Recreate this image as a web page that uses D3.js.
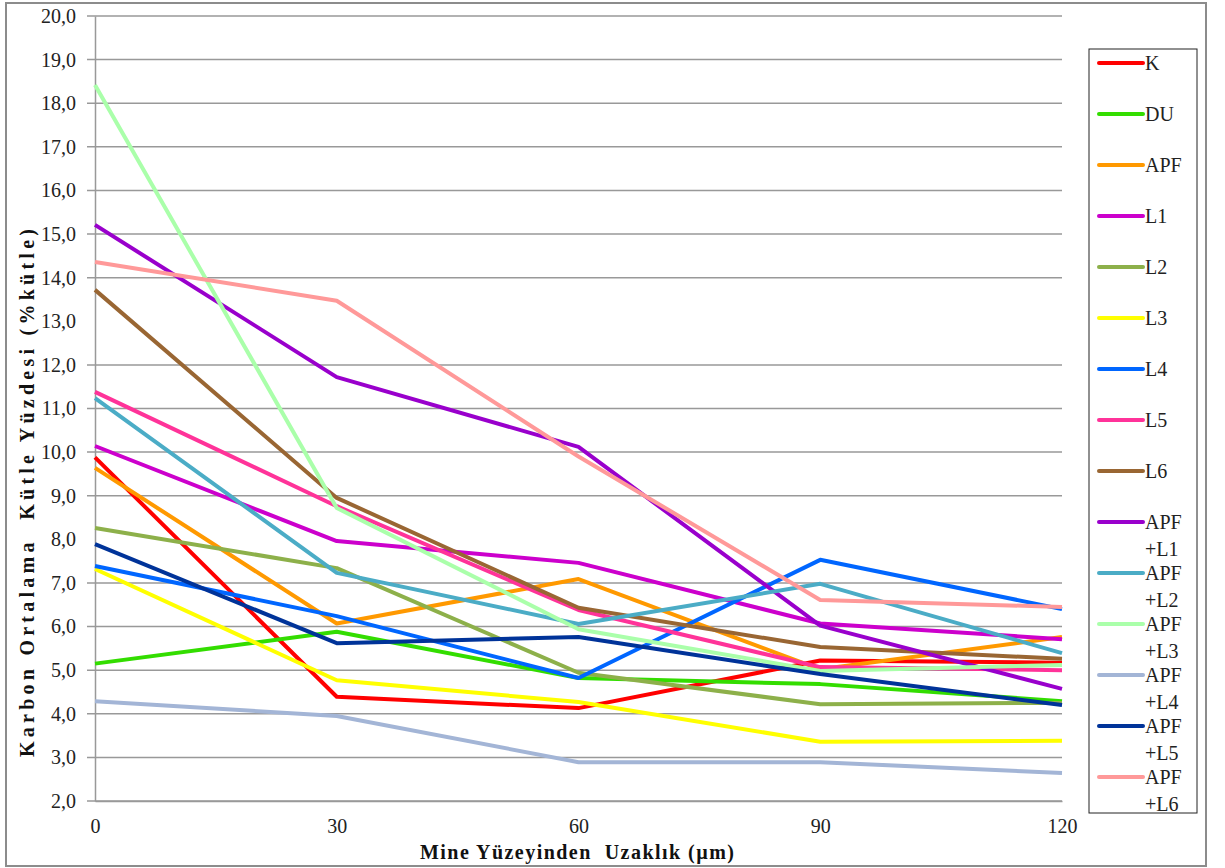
<!DOCTYPE html>
<html><head><meta charset="utf-8">
<script src="https://cdn.jsdelivr.net/npm/d3@7"></script>
<style>body{margin:0;background:#fff}svg{display:block}</style>
</head><body><svg id="c" width="1225" height="868"></svg>
<script>
const xValues = [0, 30, 60, 90, 120];
const yTicks = [2,3,4,5,6,7,8,9,10,11,12,13,14,15,16,17,18,19,20];
const hiddenGrid = [8, 13];
const seriesNames = ["K","DU","APF","L1","L2","L3","L4","L5","L6","APF+L1","APF+L2","APF+L3","APF+L4","APF+L5","APF+L6"];
const seriesColors = ["#ff0000","#33dd00","#ff9900","#cc00cc","#8db04a","#ffff00","#0066ff","#ff3399","#996633","#9900cc","#4bacc6","#aaffaa","#a3b5d6","#003399","#ff9999"];
const K      = [9.88, 4.39, 4.13, 5.22, 5.17];
const DU     = [5.15, 5.88, 4.82, 4.68, 4.29];
const APF    = [9.64, 6.07, 7.09, 5.02, 5.76];
const L1     = [10.14, 7.96, 7.46, 6.07, 5.71];
const L2     = [8.26, 7.34, 4.94, 4.22, 4.25];
const L3     = [7.32, 4.77, 4.27, 3.36, 3.38];
const L4     = [7.39, 6.24, 4.82, 7.53, 6.40];
const L5     = [11.38, 8.76, 6.38, 5.07, 5.00];
const L6     = [13.72, 8.95, 6.43, 5.53, 5.26];
const APF_L1 = [15.21, 11.72, 10.12, 6.02, 4.57];
const APF_L2 = [11.24, 7.23, 6.06, 6.98, 5.39];
const APF_L3 = [18.42, 8.72, 5.94, 4.98, 5.12];
const APF_L4 = [4.29, 3.95, 2.89, 2.89, 2.64];
const APF_L5 = [7.89, 5.62, 5.76, 4.91, 4.20];
const APF_L6 = [14.36, 13.47, 9.90, 6.61, 6.45];
const seriesValues = [K,DU,APF,L1,L2,L3,L4,L5,L6,APF_L1,APF_L2,APF_L3,APF_L4,APF_L5,APF_L6];

const FONT = "'Liberation Serif', 'DejaVu Serif', serif";
const svg = d3.select("#c");
svg.append("rect").attr("x",6).attr("y",3).attr("width",1200).attr("height",863)
  .attr("fill","#fff").attr("stroke","#8c8c8c").attr("stroke-width",2);

const x = d3.scaleLinear().domain([0,120]).range([95,1062]);
const y = d3.scaleLinear().domain([2,20]).range([801,16]);

// gridlines
svg.append("g").selectAll("line").data(yTicks.filter(t=>!hiddenGrid.includes(t))).join("line")
  .attr("x1",87).attr("x2",1062).attr("y1",d=>y(d)).attr("y2",d=>y(d))
  .attr("stroke","#999").attr("stroke-width",1.5);

// y axis
const ya = svg.append("g").attr("transform","translate(95,0)")
  .call(d3.axisLeft(y).tickValues(yTicks).tickSize(0).tickPadding(19).tickFormat(d=>d3.format(".1f")(d).replace(".",",")));
ya.attr("font-family",null);
ya.select(".domain").attr("stroke","#999").attr("stroke-width",1.5);
ya.selectAll("text").style("font-family",FONT).style("font-size","20px").attr("fill","#222");

// x axis
const xa = svg.append("g").attr("transform","translate(0,801)")
  .call(d3.axisBottom(x).tickValues(xValues).tickSize(0).tickPadding(18).tickFormat(d3.format("d")));
xa.attr("font-family",null);
xa.select(".domain").attr("stroke","#999").attr("stroke-width",1.5);
xa.selectAll("text").style("font-family",FONT).style("font-size","20px").attr("fill","#222");

// lines
const line = d3.line().x((d,i)=>x(xValues[i])).y(d=>y(d));
svg.append("g").selectAll("path").data(seriesValues).join("path")
  .attr("d",line).attr("fill","none").attr("stroke",(d,i)=>seriesColors[i])
  .attr("stroke-width",4).attr("stroke-linejoin","round");

// titles
svg.append("text").attr("transform","translate(34,493) rotate(-90)").attr("text-anchor","middle")
  .style("font-family",FONT).style("font-size","20px").style("font-weight","bold").attr("fill","#111")
  .attr("textLength",528).attr("lengthAdjust","spacing")
  .attr("xml:space","preserve").text("Karbon Ortalama  Kütle Yüzdesi (%kütle)");
svg.append("text").attr("x",577).attr("y",859).attr("text-anchor","middle")
  .style("font-family",FONT).style("font-size","20px").style("font-weight","bold").attr("fill","#111")
  .attr("textLength",314).attr("lengthAdjust","spacing")
  .attr("xml:space","preserve").text("Mine Yüzeyinden  Uzaklık (µm)");

// legend
svg.append("rect").attr("x",1089).attr("y",49).attr("width",108).attr("height",764)
  .attr("fill","#fff").attr("stroke","#222").attr("stroke-width",1);
const lg = svg.append("g").selectAll("g").data(seriesNames).join("g")
  .attr("transform",(d,i)=>`translate(1099,${63+i*51})`);
lg.append("line").attr("x1",0).attr("x2",44).attr("y1",0).attr("y2",0)
  .attr("stroke",(d,i)=>seriesColors[i]).attr("stroke-width",4).attr("stroke-linecap","round");
lg.each(function(d){
  const g = d3.select(this);
  const parts = d.includes("+") ? [d.split("+")[0], "+"+d.split("+")[1]] : [d];
  parts.forEach((p,j)=>{
    g.append("text").attr("x",46).attr("y",7+j*27)
      .style("font-family",FONT).style("font-size","20px").attr("fill","#222").text(p);
  });
});
</script></body></html>
